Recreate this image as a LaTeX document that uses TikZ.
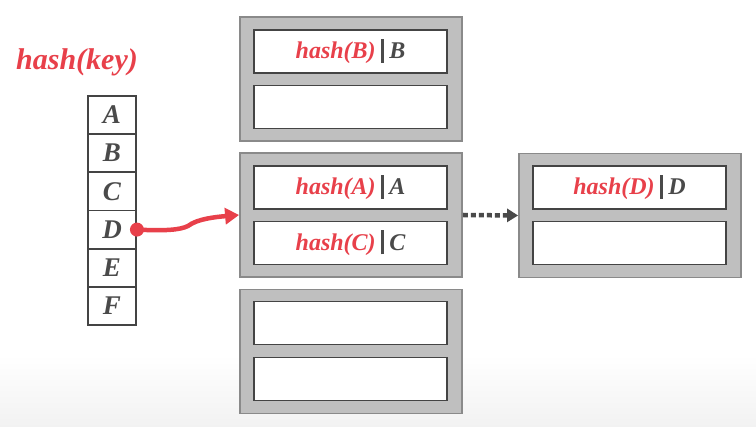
\documentclass[tikz,border=0pt]{standalone}
\usepackage{fontspec}
\setmainfont{Liberation Serif}
\usetikzlibrary{arrows.meta}
\definecolor{hred}{HTML}{E8404A}
\definecolor{dtext}{HTML}{4A4A4A}
\definecolor{bfill}{HTML}{BFBFBF}
\definecolor{bedge}{HTML}{8A8A8A}
\definecolor{sedge}{HTML}{444444}
\definecolor{bgbot}{HTML}{F2F2F2}
\newcommand{\sepbar}{\hspace{5.5pt}{\color{dtext}\rule[-4pt]{2.6pt}{24pt}}\hspace{5.5pt}}
\newcommand{\hk}[1]{{\color{hred}hash(#1)}\sepbar{\color{dtext}#1}\hspace{10pt}}
\begin{document}
\begin{tikzpicture}[x=1pt,y=-1pt,
  bucket/.style={draw=bedge, fill=bfill, line width=1.8pt, minimum width=222pt, minimum height=124pt, inner sep=0pt},
  slot/.style={draw=sedge, fill=white, line width=1.9pt, minimum width=193pt, minimum height=43pt, inner sep=0pt,
    font=\fontsize{24}{28}\selectfont\bfseries\itshape},
  cell/.style={draw=sedge, fill=white, line width=1.9pt, minimum width=48pt, minimum height=38.2pt, inner sep=0pt,
    font=\fontsize{27}{30}\selectfont\bfseries\itshape, text=dtext},
  redarrow/.style={draw=hred, line width=4.5pt, -{Triangle[length=14pt,width=16pt]}},
  dotarrow/.style={draw=dtext, line width=4.5pt, dash pattern=on 5pt off 3pt, -{Triangle[length=11pt,width=13pt]}}
]
\useasboundingbox (0,0) rectangle (756,427);
\fill[white] (0,0) rectangle (756,427);
\shade[top color=white, bottom color=bgbot] (0,355) rectangle (756,427);

\node[font=\fontsize{30}{34}\selectfont\bfseries\itshape, text=hred] (title) at (77,62) {hash(key)};

\node[cell] (kA) at (112,115) {A};
\node[cell] (kB) at (112,153.2) {B};
\node[cell] (kC) at (112,191.4) {C};
\node[cell] (kD) at (112,229.6) {D};
\node[cell] (kE) at (112,267.8) {E};
\node[cell] (kF) at (112,306) {F};

\node[bucket] (b1) at (351,79) {};
\node[bucket] (b2) at (351,215) {};
\node[bucket] (b3) at (351,351.5) {};
\node[bucket] (b4) at (630,215.5) {};

\node[slot] (s11) at (350.5,51.5) {\hk{B}};
\node[slot] (s12) at (350.5,107) {};
\node[slot] (s21) at (350.5,187.5) {\hk{A}};
\node[slot] (s22) at (350.5,243) {\hk{C}};
\node[slot] (s31) at (350.5,323) {};
\node[slot] (s32) at (350.5,379) {};
\node[slot] (s41) at (629.5,187.5) {\hk{D}};
\node[slot] (s42) at (629.5,243) {};

\coordinate (r1) at (188,226);
\draw[redarrow] (kD.east) .. controls (165,231) and (180,230) .. (r1) .. controls (197,219) and (215,217) .. (b2.west);
\fill[hred] (kD.east) circle (7pt);

\draw[dotarrow] (b2.east) -- (b4.west);
\end{tikzpicture}
\end{document}
